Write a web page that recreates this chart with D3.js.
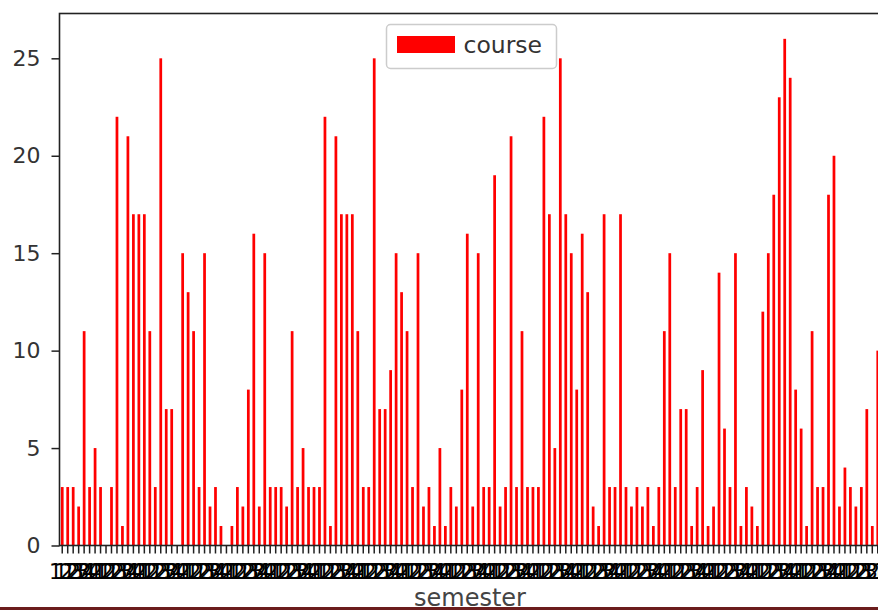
<!DOCTYPE html>
<html>
<head>
<meta charset="utf-8">
<script src="https://cdn.jsdelivr.net/npm/d3@7"></script>
<style>
  body { margin: 0; background: #fff; }
  text { font-family: "DejaVu Sans", sans-serif; }
</style>
</head>
<body>
<div id="viz"></div>
<script>
// course counts per semester left to right
var courses = [
  3, 3, 3, 2, 11, 3, 5, 3, 0,
  3, 22, 1, 21, 17, 17, 17, 11, 3, 25, 7, 7, 0,
  15, 13, 11, 3, 15, 2, 3, 1, 0,
  1, 3, 2, 8, 16, 2, 15, 3, 3, 3, 2, 11, 3, 5, 3, 3, 3, 22, 1, 21, 17, 17, 17, 11, 3,
  3, 25, 7, 7, 9, 15, 13, 11, 3,
  15, 2, 3, 1,
  5, 1, 3, 2, 8, 16, 2, 15, 3, 3, 19, 2, 3,
  21, 3, 11, 3, 3, 3, 22, 17, 5, 25, 17, 15, 8,
  16, 13, 2, 1, 17, 3, 3, 17, 3,
  2, 3, 2, 3,
  1, 3, 11, 15,
  3,
  7, 7, 1, 3, 9, 1, 2, 14, 6, 3, 15, 1, 3, 2, 1,
  12, 15, 18, 23, 26, 24, 8, 6, 1, 11,
  3, 3, 18, 20, 2, 4, 3, 2, 3, 7, 1, 10
];
// semester codes on the x axis (they overlap into a band in the picture)
var semesters = [
  "11","12","21","22","31","32","41","42","11","12","21","22","31","32","41","42",
  "11","12","21","22","31","32","41","42","11","12","21","22","31","32","41","42",
  "11","12","21","22","31","32","41","42","11","12","21","22","31","32","41","42",
  "11","12","21","22","31","32","41","42","11","12","21","22","31","32","41","42",
  "11","12","21","22","31","32","41","42","11","12","21","22","31","32","41","42",
  "11","12","21","22","31","32","41","42","11","12","21","22","31","32","41","42",
  "11","12","21","22","31","32","41","42","11","12","21","22","31","32","41","42",
  "11","12","21","22","31","32","41","42","11","12","21","22","31","32","41","42",
  "11","12","21","22","31","32","41","42","11","12","21","22","31","32","41","42",
  "11","12","21","22","31","32"
];
var yTicks = [0, 5, 10, 15, 20, 25];
var seriesName = "course";
var xTitle = "semester";

var width = 878, height = 610,
    plotLeft = 59.5, plotRight = 880.5, plotTop = 13.5, plotBottom = 545.5;

var svg = d3.select("#viz").append("svg")
  .attr("width", width)
  .attr("height", height);

var x = d3.scaleBand()
  .domain(d3.range(courses.length))
  .range([plotLeft, plotRight])
  .paddingInner(0.5)
  .paddingOuter(0.25);

var y = d3.scaleLinear()
  .domain([0, 27.3])
  .range([plotBottom, plotTop]);

svg.append("g")
  .selectAll("rect")
  .data(courses)
  .enter()
  .append("rect")
    .attr("x", function(d, i) { return x(i); })
    .attr("y", function(d) { return y(d); })
    .attr("width", x.bandwidth())
    .attr("height", function(d) { return y(0) - y(d); })
    .attr("fill", "#ff0000");

// x axis with overlapping labels
var xAxis = svg.append("g")
  .attr("transform", "translate(0," + plotBottom + ")")
  .call(d3.axisBottom(x)
    .tickFormat(function(i) { return semesters[i]; })
    .tickSize(8).tickPadding(11).tickSizeOuter(0));
xAxis.select(".domain").remove();
xAxis.selectAll("line").attr("stroke", "#222").attr("stroke-width", 1.5);
xAxis.selectAll("text").attr("font-size", 21).attr("fill", "#000");

var yAxis = svg.append("g")
  .attr("transform", "translate(" + plotLeft + ",0)")
  .call(d3.axisLeft(y).tickValues(yTicks).tickSize(8).tickPadding(11).tickSizeOuter(0));
yAxis.select(".domain").remove();
yAxis.selectAll("line").attr("stroke", "#222").attr("stroke-width", 1.5);
yAxis.selectAll("text").attr("font-size", 22).attr("fill", "#333");

// spines
svg.append("rect")
  .attr("x", plotLeft).attr("y", plotTop)
  .attr("width", plotRight - plotLeft).attr("height", plotBottom - plotTop)
  .attr("fill", "none").attr("stroke", "#222").attr("stroke-width", 1.6);

// legend
var lg = svg.append("g").attr("transform", "translate(386.5,24.5)");
lg.append("rect")
  .attr("width", 170).attr("height", 44).attr("rx", 4)
  .attr("fill", "#fff").attr("fill-opacity", 0.8)
  .attr("stroke", "#ccc").attr("stroke-width", 1.5);
lg.append("rect")
  .attr("x", 10.5).attr("y", 11.5).attr("width", 58).attr("height", 17)
  .attr("fill", "#ff0000");
lg.append("text")
  .attr("x", 77).attr("y", 28)
  .attr("font-size", 23.5).attr("fill", "#333")
  .text(seriesName);

svg.append("text")
  .attr("x", (plotLeft + plotRight) / 2).attr("y", 606)
  .attr("text-anchor", "middle")
  .attr("font-size", 24).attr("fill", "#444")
  .text(xTitle);

// dark strip along the bottom edge
svg.append("rect")
  .attr("x", 0).attr("y", 607).attr("width", width).attr("height", 3)
  .attr("fill", "#6b1d1d");
</script>
</body>
</html>
